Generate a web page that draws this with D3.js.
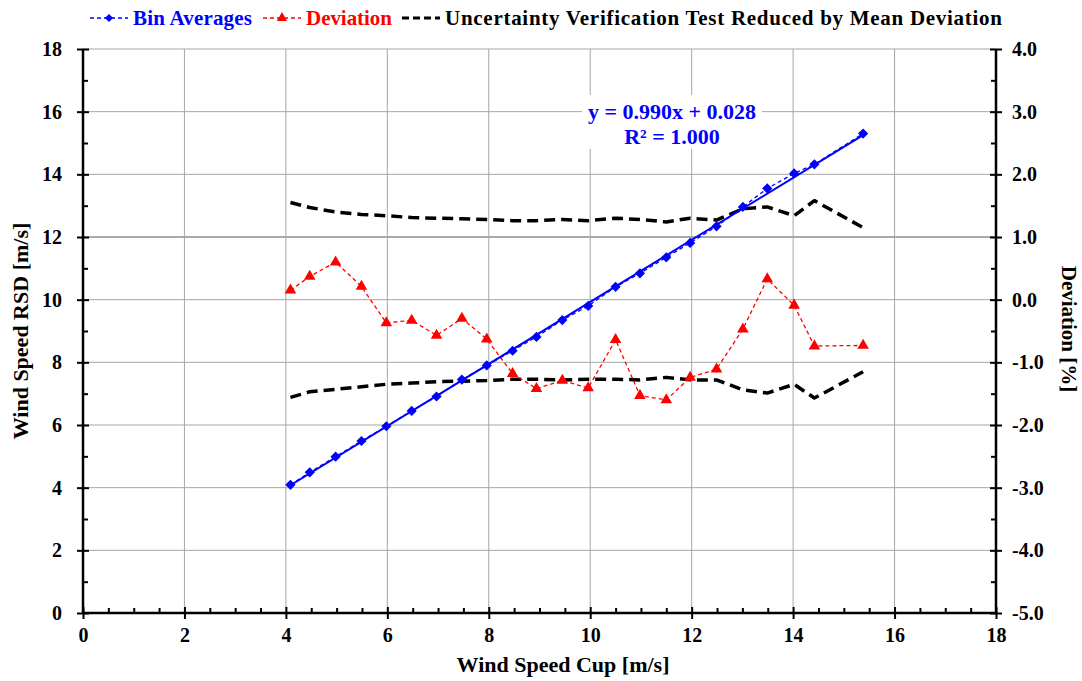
<!DOCTYPE html>
<html>
<head>
<meta charset="utf-8">
<script src="https://cdn.jsdelivr.net/npm/d3@7"></script>
<style>
  body { margin: 0; background: #fff; }
</style>
</head>
<body>
<div id="chart"></div>
<script>
// wind speed cup bins [m/s]
var cupSpeed = [4.09, 4.47, 4.98, 5.49, 5.98, 6.48, 6.97, 7.47, 7.96, 8.47, 8.94, 9.45,
  9.96, 10.50, 10.98, 11.50, 11.97, 12.49, 13.01, 13.49, 14.02, 14.42, 15.38]
// RSD bin averages [m/s]
var rsdAverage = [4.09, 4.49, 4.99, 5.49, 5.96, 6.45, 6.91, 7.45, 7.90, 8.37, 8.81, 9.35,
  9.80, 10.41, 10.84, 11.35, 11.81, 12.34, 12.96, 13.55, 14.03, 14.32, 15.30]
// deviation [%]
var deviation = [0.15, 0.37, 0.60, 0.21, -0.37, -0.33, -0.57, -0.30, -0.63, -1.18, -1.42, -1.29,
  -1.41, -0.64, -1.53, -1.60, -1.24, -1.11, -0.47, 0.33, -0.09, -0.74, -0.73]
// uncertainty band reduced by mean deviation [%]
var upperBand = [1.55, 1.47, 1.40, 1.36, 1.34, 1.31, 1.30, 1.29, 1.28, 1.26, 1.26, 1.28,
  1.26, 1.30, 1.28, 1.24, 1.30, 1.27, 1.45, 1.48, 1.34, 1.58, 1.15]
var lowerBand = [-1.56, -1.47, -1.43, -1.39, -1.35, -1.33, -1.31, -1.30, -1.29, -1.27, -1.27, -1.28,
  -1.27, -1.27, -1.28, -1.24, -1.28, -1.28, -1.44, -1.49, -1.35, -1.57, -1.15]
var slope = 0.990
var intercept = 0.028
var xTicks = [0, 2, 4, 6, 8, 10, 12, 14, 16, 18]
var yTicks = [0, 2, 4, 6, 8, 10, 12, 14, 16, 18]
var devTicks = [-5, -4, -3, -2, -1, 0, 1, 2, 3, 4]

var width = 1082
var height = 681
var pLeft = 83, pRight = 996, pTop = 49, pBottom = 613
var font = "'Liberation Serif', 'Times New Roman', serif"

var svg = d3.select('#chart').append('svg')
  .attr('width', width)
  .attr('height', height)
  .attr('font-family', font)
  .attr('font-weight', 'bold')

var x = d3.scaleLinear().domain([0, 18]).range([pLeft, pRight])
var y = d3.scaleLinear().domain([0, 18]).range([pBottom, pTop])
var yDev = d3.scaleLinear().domain([-5, 4]).range([pBottom, pTop])

// grid
svg.append('g').selectAll('line')
  .data(yTicks.slice(1))
  .enter().append('line')
  .attr('x1', pLeft).attr('x2', pRight)
  .attr('y1', function (d) { return y(d) }).attr('y2', function (d) { return y(d) })
  .attr('stroke', function (d) { return d == 12 ? '#555' : '#a6a6a6' })
  .attr('stroke-width', 1)
svg.append('g').selectAll('line')
  .data(xTicks.slice(1, -1))
  .enter().append('line')
  .attr('y1', pTop).attr('y2', pBottom)
  .attr('x1', function (d) { return x(d) }).attr('x2', function (d) { return x(d) })
  .attr('stroke', '#a6a6a6')
  .attr('stroke-width', 1)

// axes
var xAxis = d3.axisBottom(x).tickValues(xTicks).tickSize(6).tickPadding(9).tickFormat(d3.format('d'))
var xMinor = d3.axisTop(x).tickValues(d3.range(0.5, 18, 0.5).filter(function (d) { return d % 2 != 0 })).tickSize(5).tickFormat('')
var yAxis = d3.axisLeft(y).tickValues(yTicks).tickSize(6).tickPadding(15).tickFormat(d3.format('d'))
var yMinor = d3.axisRight(y).tickValues(d3.range(1, 18, 2)).tickSize(5).tickFormat('')
var rAxis = d3.axisRight(yDev).tickValues(devTicks).tickSize(6).tickPadding(10)
  .tickFormat(function (d) { return d.toFixed(1) })
var rMinor = d3.axisLeft(yDev).tickValues(d3.range(-4.5, 4, 1)).tickSize(5).tickFormat('')

function styleAxis (g) {
  g.attr('font-family', font).attr('font-weight', 'bold')
  g.select('.domain').remove()
  g.selectAll('line').attr('stroke', '#000').attr('stroke-width', 2)
  g.selectAll('text').attr('font-size', 20).attr('fill', '#000')
}

var gx = svg.append('g').attr('transform', 'translate(0,' + pBottom + ')').call(xAxis).call(styleAxis)
gx.selectAll('.tick line').attr('y1', -6)
svg.append('g').attr('transform', 'translate(0,' + pBottom + ')').call(xMinor).call(styleAxis)
var gy = svg.append('g').attr('transform', 'translate(' + pLeft + ',0)').call(yAxis).call(styleAxis)
gy.selectAll('.tick line').attr('x1', 6)
svg.append('g').attr('transform', 'translate(' + pLeft + ',0)').call(yMinor).call(styleAxis)
var gr = svg.append('g').attr('transform', 'translate(' + pRight + ',0)').call(rAxis).call(styleAxis)
gr.selectAll('.tick line').attr('x1', -6)
svg.append('g').attr('transform', 'translate(' + pRight + ',0)').call(rMinor).call(styleAxis)

svg.append('line').attr('x1', pLeft).attr('x2', pRight).attr('y1', pBottom).attr('y2', pBottom)
  .attr('stroke', '#000').attr('stroke-width', 2.5)
svg.append('line').attr('x1', pLeft).attr('x2', pLeft).attr('y1', pTop).attr('y2', pBottom)
  .attr('stroke', '#000').attr('stroke-width', 2.5)
svg.append('line').attr('x1', pRight).attr('x2', pRight).attr('y1', pTop).attr('y2', pBottom)
  .attr('stroke', '#000').attr('stroke-width', 2.5)

// axis titles
svg.append('text').attr('x', 563).attr('y', 672)
  .attr('text-anchor', 'middle').attr('font-size', 22).text('Wind Speed Cup [m/s]')
svg.append('text').attr('transform', 'translate(28,' + ((pTop + pBottom) / 2) + ') rotate(-90)')
  .attr('text-anchor', 'middle').attr('font-size', 22).text('Wind Speed RSD [m/s]')
svg.append('text').attr('transform', 'translate(1062,' + ((pTop + pBottom) / 2 - 2) + ') rotate(90)')
  .attr('text-anchor', 'middle').attr('font-size', 21).text('Deviation [%]')

// uncertainty bands
var bandLine = d3.line()
  .x(function (d, i) { return x(cupSpeed[i]) })
  .y(function (d) { return yDev(d) })
;[upperBand, lowerBand].forEach(function (band) {
  svg.append('path').datum(band)
    .attr('d', bandLine)
    .attr('fill', 'none')
    .attr('stroke', '#000')
    .attr('stroke-width', 3.5)
    .attr('stroke-linejoin', 'round')
    .attr('stroke-dasharray', '11,6')
})

// deviation
var devLine = d3.line()
  .x(function (d, i) { return x(cupSpeed[i]) })
  .y(function (d) { return yDev(d) })
svg.append('path').datum(deviation)
  .attr('d', devLine)
  .attr('fill', 'none')
  .attr('stroke', '#ff0000')
  .attr('stroke-width', 1.3)
  .attr('stroke-dasharray', '4,3')
svg.append('g').selectAll('path')
  .data(deviation)
  .enter().append('path')
  .attr('d', d3.symbol().type(d3.symbolTriangle).size(58))
  .attr('transform', function (d, i) { return 'translate(' + x(cupSpeed[i]) + ',' + yDev(d) + ')' })
  .attr('fill', '#ff0000')

// regression line
var xExtent = d3.extent(cupSpeed)
svg.append('line')
  .attr('x1', x(xExtent[0])).attr('y1', y(slope * xExtent[0] + intercept))
  .attr('x2', x(xExtent[1])).attr('y2', y(slope * xExtent[1] + intercept))
  .attr('stroke', '#0000ff')
  .attr('stroke-width', 2)

// bin averages
var binLine = d3.line()
  .x(function (d, i) { return x(cupSpeed[i]) })
  .y(function (d) { return y(d) })
svg.append('path').datum(rsdAverage)
  .attr('d', binLine)
  .attr('fill', 'none')
  .attr('stroke', '#0000ff')
  .attr('stroke-width', 1.3)
  .attr('stroke-dasharray', '4,3')
svg.append('g').selectAll('path')
  .data(rsdAverage)
  .enter().append('path')
  .attr('d', d3.symbol().type(d3.symbolSquare).size(52))
  .attr('transform', function (d, i) { return 'translate(' + x(cupSpeed[i]) + ',' + y(d) + ') rotate(45)' })
  .attr('fill', '#0000ff')

// regression label
var eq = svg.append('g')
eq.append('rect').attr('x', 582).attr('y', 95).attr('width', 180).attr('height', 54).attr('fill', '#fff')
eq.append('text').attr('x', 672).attr('y', 119).attr('text-anchor', 'middle')
  .attr('font-size', 22).attr('fill', '#0000ff').text('y = 0.990x + 0.028')
eq.append('text').attr('x', 672).attr('y', 144).attr('text-anchor', 'middle')
  .attr('font-size', 22).attr('fill', '#0000ff').text('R² = 1.000')

// legend
var legend = [
  { name: 'Bin Averages', color: '#0000ff', x: 90, marker: d3.symbolSquare, rot: 45, size: 34, dash: '4,3', w: 1.3, len: 119 },
  { name: 'Deviation', color: '#ff0000', x: 263, marker: d3.symbolTriangle, rot: 0, size: 45, dash: '4,3', w: 1.3, len: 86 },
  { name: 'Uncertainty Verification Test Reduced by Mean Deviation', color: '#000', x: 402, marker: null, dash: '7,4', w: 3, len: 557 }
]
var lg = svg.append('g').selectAll('g').data(legend).enter().append('g')
  .attr('transform', function (d) { return 'translate(' + d.x + ',18)' })
lg.append('line').attr('x1', 0).attr('x2', 38)
  .attr('stroke', function (d) { return d.color })
  .attr('stroke-width', function (d) { return d.w })
  .attr('stroke-dasharray', function (d) { return d.dash })
lg.filter(function (d) { return d.marker }).append('path')
  .attr('d', function (d) { return d3.symbol().type(d.marker).size(d.size)() })
  .attr('transform', function (d) { return 'translate(19,0) rotate(' + d.rot + ')' })
  .attr('fill', function (d) { return d.color })
lg.append('text').attr('x', 43).attr('y', 7)
  .attr('font-size', 21)
  .attr('textLength', function (d) { return d.len })
  .attr('lengthAdjust', 'spacing')
  .attr('fill', function (d) { return d.color })
  .text(function (d) { return d.name })
</script>
</body>
</html>
